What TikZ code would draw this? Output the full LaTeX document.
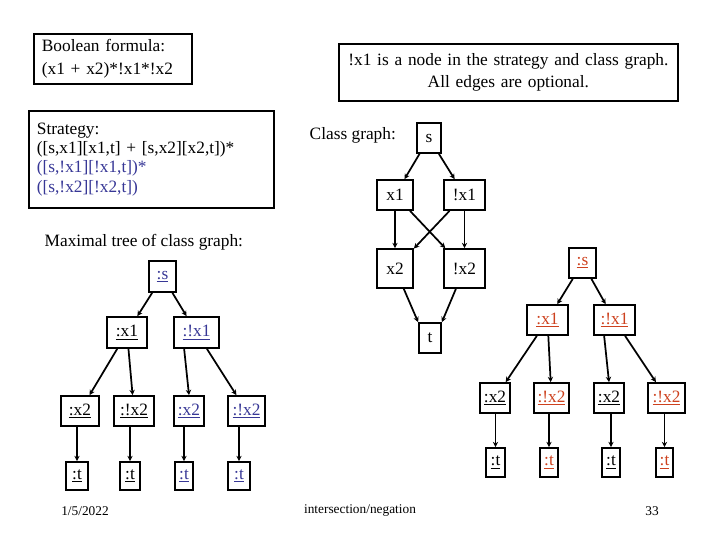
\documentclass[tikz,border=0pt]{standalone}
\usepackage{fontspec}
\setmainfont{Liberation Serif}
\usetikzlibrary{arrows.meta}
\definecolor{bl}{RGB}{55,55,150}
\definecolor{rd}{RGB}{205,65,30}
\begin{document}
\begin{tikzpicture}[x=0.75pt,y=-0.75pt,
  bx/.style={draw,line width=1.3pt,inner sep=0pt,font=\fontsize{13}{14}\selectfont},
  tb/.style={draw,line width=1.3pt,inner xsep=6pt,inner ysep=3pt,anchor=north west},
  ar/.style={line width=1.3pt,-{Stealth[length=4pt,width=4pt]}},
  lbl/.style={font=\fontsize{13}{14}\selectfont}]
\useasboundingbox (0,0) rectangle (720,540);
% text boxes
\node[tb,font=\fontsize{13}{17}\selectfont,text width=158*0.75pt-12pt,minimum height=50*0.75pt,align=left] (bf) at (33,33) {Boolean formula:\\(x1 + x2)*!x1*!x2};
\node[tb,font=\fontsize{13}{16.5}\selectfont,text width=339*0.75pt-12pt,minimum height=57*0.75pt,align=center] (nt) at (338,43) {!x1 is a node in the strategy and class graph.\\All edges are optional.};
\node[tb,font=\fontsize{13}{14.5}\selectfont,text width=245*0.75pt-12pt,minimum height=97*0.75pt,align=left] (st) at (28,110) {Strategy:\\([s,x1][x1,t] + [s,x2][x2,t])*\\\textcolor{bl}{([s,!x1][!x1,t])*}\\\textcolor{bl}{([s,!x2][!x2,t])}};
\node[lbl,anchor=west] (mt) at (40,242) {Maximal tree of class graph:};
\node[lbl,anchor=west] (cg) at (305,135) {Class graph:};
% class graph
\newcommand{\bxn}[6]{\node[bx,minimum width=(#4-#2)*0.75pt,minimum height=(#5-#3)*0.75pt] (#1) at ({(#2+#4)/2},{(#3+#5)/2}) {#6};}
\newcommand{\vdn}[2]{\draw[ar] (#2.north) ++(0,-19) coordinate (tmp) (#1.south -| #2.north) -- (#2.north);}
\bxn{s}{417}{123}{441}{153}{s}
\bxn{x1}{377}{180}{413}{210}{x1}
\bxn{nx1}{444}{180}{485}{210}{!x1}
\bxn{x2}{377}{249}{413}{288}{x2}
\bxn{nx2}{444}{249}{485}{288}{!x2}
\bxn{t}{419}{323}{441}{353}{t}
\draw[ar] (s) -- (x1); \draw[ar] (s) -- (nx1);
\draw[ar] (x1) -- (x2); \draw[ar] (nx1) -- (nx2);
\draw[ar] (x1) -- (nx2); \draw[ar] (nx1) -- (x2);
\draw[ar] (x2) -- (t.north west); \draw[ar] (nx2) -- (t.north east);
% left tree
\bxn{ls}{149}{261}{176}{292}{\textcolor{bl}{\underline{:s}}}
\bxn{lx1}{107}{317}{147}{348}{\underline{:x1}}
\bxn{lnx1}{174}{317}{219}{348}{\textcolor{bl}{\underline{:!x1}}}
\bxn{la}{61}{396}{99}{426}{\underline{:x2}}
\bxn{lb}{114}{396}{154}{426}{\underline{:!x2}}
\bxn{lc}{174}{396}{204}{426}{\textcolor{bl}{\underline{:x2}}}
\bxn{ld}{228}{396}{265}{426}{\textcolor{bl}{\underline{:!x2}}}
\bxn{lta}{66}{462}{88}{490}{\underline{:t}}
\bxn{ltb}{120}{462}{140}{490}{\underline{:t}}
\bxn{ltc}{175}{462}{193}{490}{\textcolor{bl}{\underline{:t}}}
\bxn{ltd}{228}{462}{250}{490}{\textcolor{bl}{\underline{:t}}}
\draw[ar] (ls) -- (lx1); \draw[ar] (ls) -- (lnx1);
\draw[ar] (lx1) -- (la); \draw[ar] (lx1) -- (lb);
\draw[ar] (lnx1.south west) ++(11,0) -- (lc.north);
\draw[ar] (lnx1) -- (ld);
\vdn{la}{lta} \vdn{lb}{ltb} \vdn{lc}{ltc} \vdn{ld}{ltd}
% right tree
\bxn{rs}{569}{248}{596}{278}{\textcolor{rd}{\underline{:s}}}
\bxn{rx1}{527}{305}{568}{335}{\textcolor{rd}{\underline{:x1}}}
\bxn{rnx1}{594}{305}{635}{335}{\textcolor{rd}{\underline{:!x1}}}
\bxn{ra}{480}{383}{510}{413}{\underline{:x2}}
\bxn{rb}{534}{383}{569}{413}{\textcolor{rd}{\underline{:!x2}}}
\bxn{rc}{594}{383}{624}{413}{\underline{:x2}}
\bxn{rd}{648}{383}{685}{413}{\textcolor{rd}{\underline{:!x2}}}
\bxn{rta}{486}{448}{505}{477}{\underline{:t}}
\bxn{rtb}{540}{448}{558}{477}{\textcolor{rd}{\underline{:t}}}
\bxn{rtc}{602}{448}{620}{477}{\underline{:t}}
\bxn{rtd}{656}{448}{673}{477}{\textcolor{rd}{\underline{:t}}}
\draw[ar] (rs) -- (rx1); \draw[ar] (rs) -- (rnx1);
\draw[ar] (rx1) -- (ra); \draw[ar] (rx1) -- (rb);
\draw[ar] (rnx1.south west) ++(11,0) -- (rc.north);
\draw[ar] (rnx1) -- (rd);
\vdn{ra}{rta} \vdn{rb}{rtb} \vdn{rc}{rtc} \vdn{rd}{rtd}
% footer
\node[font=\fontsize{10}{11}\selectfont] (f1) at (85,511) {1/5/2022};
\node[font=\fontsize{10}{11}\selectfont] (f2) at (360,511) {intersection/negation};
\node[font=\fontsize{10}{11}\selectfont] (f3) at (652,511) {33};
\end{tikzpicture}
\end{document}
